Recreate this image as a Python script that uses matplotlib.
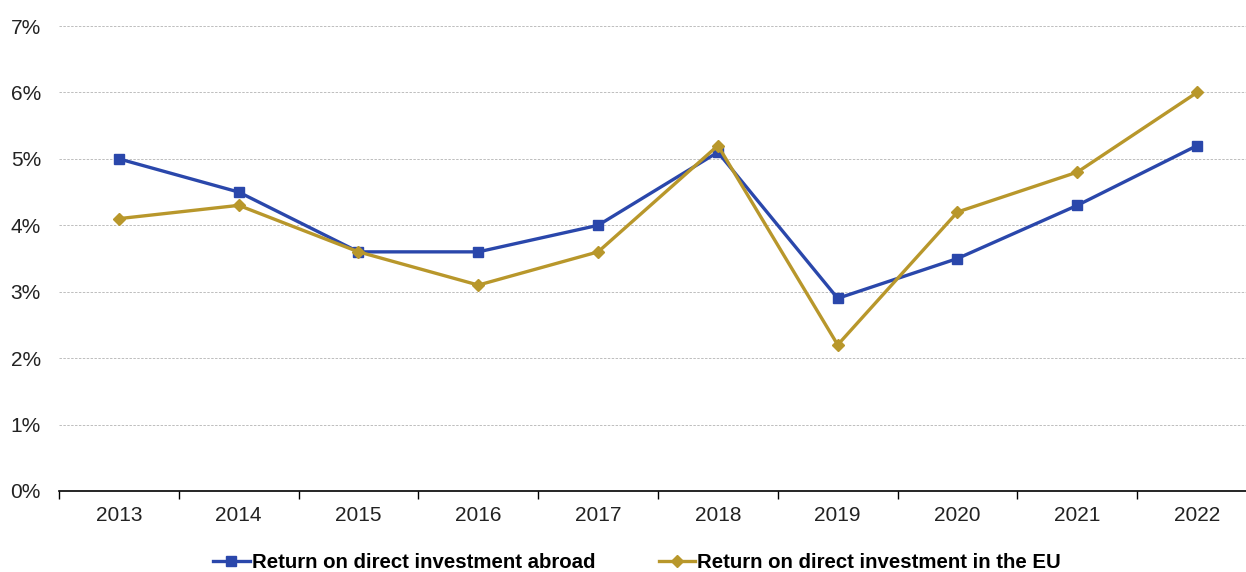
import numpy as np
import matplotlib.pyplot as plt
from matplotlib.ticker import FixedLocator, PercentFormatter

plt.rcParams['font.family'] = ['Liberation Sans', 'DejaVu Sans']

years = ['2013', '2014', '2015', '2016', '2017', '2018', '2019', '2020', '2021', '2022']
abroad = [5.0, 4.5, 3.6, 3.6, 4.0, 5.1, 2.9, 3.5, 4.3, 5.2]
in_eu = [4.1, 4.3, 3.6, 3.1, 3.6, 5.2, 2.2, 4.2, 4.8, 6.0]

blue = '#2a47ab'
gold = '#b8972b'

fig = plt.figure(figsize=(12.46, 5.72), dpi=100)
ax = fig.add_axes([59/1246, 81/572, 1198/1246, 465/572])

x = np.arange(len(years))
ax.plot(x, abroad, color=blue, lw=2.4, marker='s', ms=7.5, label='Return on direct investment abroad')
ax.plot(x, in_eu, color=gold, lw=2.4, marker='D', ms=6, label='Return on direct investment in the EU')

ax.set_xlim(-0.5, len(years) - 0.5)
ax.set_ylim(0, 7)
ax.set_yticks(np.arange(0, 8, 1))
ax.yaxis.set_major_formatter(PercentFormatter(decimals=0))
ax.grid(axis='y', color='#bdbdbd', ls=(0, (2.5, 1.5)), lw=0.7)
ax.set_axisbelow(True)

ax.set_xticks(x)
ax.set_xticklabels(years)
ax.xaxis.set_minor_locator(FixedLocator(np.arange(-0.5, len(years), 1)))
ax.tick_params(axis='x', which='major', length=0, pad=11, labelsize=15, colors='#222222')
ax.tick_params(axis='x', which='minor', length=6, width=1, color='black')
ax.tick_params(axis='y', length=0, pad=13, labelsize=15, colors='#222222')

for s in ['top', 'right', 'left']:
    ax.spines[s].set_visible(False)
ax.spines['bottom'].set_color('black')
ax.spines['bottom'].set_linewidth(1.2)

fig.legend(loc='center', bbox_to_anchor=(637/1246, 1 - 563/572), ncol=2, frameon=False,
           prop={'size': 14.7, 'weight': 'bold'}, handlelength=1.8, handletextpad=0.1,
           columnspacing=3.1)

fig.savefig('out.png', dpi=100)
